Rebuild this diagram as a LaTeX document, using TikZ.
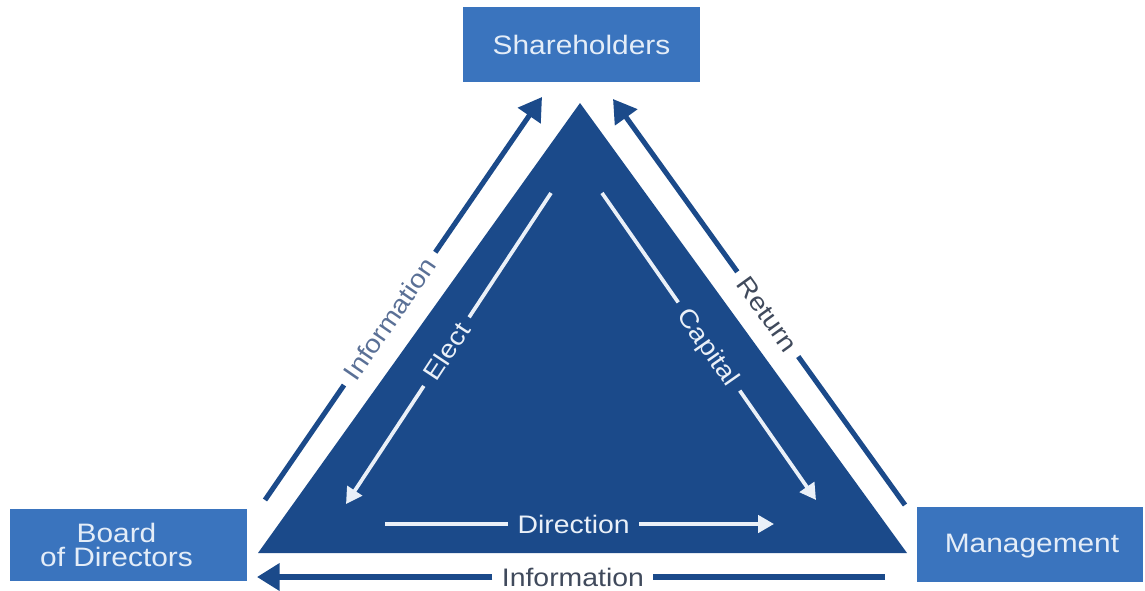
\documentclass[tikz,border=0pt]{standalone}
\usepackage{fontspec}
\setmainfont{Liberation Sans}
\newfontfamily\diagfont[FakeStretch=1.12]{Liberation Sans}
\usetikzlibrary{arrows.meta}
\definecolor{navy}{HTML}{1B4A8A}
\definecolor{boxblue}{HTML}{3A74BE}
\definecolor{boxtext}{HTML}{E4EDF8}
\definecolor{innertext}{HTML}{EAF0F8}
\definecolor{sidetext}{HTML}{5A7096}
\definecolor{slatetext}{HTML}{404A5C}
\begin{document}
\begin{tikzpicture}[x=0.75pt,y=-0.75pt,
  party/.style={fill=boxblue, draw=none, inner sep=0pt},
  partytext/.style={text=boxtext, inner sep=0pt, align=center,
    font=\diagfont\fontsize{20}{18}\selectfont},
  flowlbl/.style={font=\diagfont\fontsize{19}{22}\selectfont,
    inner xsep=7pt, inner ysep=0pt, text height=13.7pt, text depth=0pt},
  outerflow/.style={draw=navy, line width=3.8pt},
  outertip/.style={-{Triangle[length=17pt,width=20pt]}},
  innerflow/.style={draw=innertext, line width=2.8pt},
  innertip/.style={-{Triangle[length=12pt,width=13pt]}},
]
\useasboundingbox (0,0) rectangle (1145,590);

% the three parties
\node[party, minimum width=177.75pt, minimum height=56.25pt] (sh) at (581.5,44.5) {};
\node[partytext] (shtxt) at (sh.center) {Shareholders};
\node[party, minimum width=177.75pt, minimum height=54pt] (bd) at (128.5,545) {};
\node[partytext] (bdtxt) at ([xshift=-9pt]bd.center) {Board\\of Directors};
\node[party, minimum width=169.5pt, minimum height=56.25pt] (mg) at (1030,544.5) {};
\node[partytext] (mgtxt) at ([xshift=1.5pt,yshift=-1.5pt]mg.center) {Management};

% central triangle
\coordinate (apex) at (580,103);
\coordinate (bl) at (258,553);
\coordinate (br) at (907,553);
\fill[navy] (apex) -- (bl) -- (br) -- cycle;

% end points of the flows
\coordinate (iLa) at (265,500);
\coordinate (iLb) at (542,97);
\coordinate (rTop) at (613,99);
\coordinate (rBot) at (905,505);
\coordinate (bR) at (885,577);
\coordinate (bL) at (257,577);
\coordinate (eTop) at (551,193);
\coordinate (eBot) at (346,504);
\coordinate (cTop) at (602,193);
\coordinate (cBot) at (816,500);
\coordinate (dL) at (385,524);
\coordinate (dR) at (774,524);

% outer flows
\path (iLa) -- (iLb) node[pos=0.45, sloped, flowlbl, text=sidetext] (infoL) {Information};
\draw[outerflow] (iLa) -- (infoL.west);
\draw[outerflow, outertip] (infoL.east) -- (iLb);

\path (rTop) -- (rBot) node[pos=0.53, sloped, flowlbl, text=slatetext] (ret) {Return};
\draw[outerflow, outertip] (ret.west) -- (rTop);
\draw[outerflow] (ret.east) -- (rBot);

\path (bL) -- (bR) node[pos=0.503, flowlbl, text=slatetext] (infoB) {Information};
\draw[outerflow] (bR) -- (infoB.east);
\draw[outerflow, outertip] (infoB.west) -- (bL);

% inner flows
\path (eBot) -- (eTop) node[pos=0.49, sloped, flowlbl, text=innertext] (elect) {Elect};
\draw[innerflow] (eTop) -- (elect.east);
\draw[innerflow, innertip] (elect.west) -- (eBot);

\path (cTop) -- (cBot) node[pos=0.5, sloped, flowlbl, text=innertext] (cap) {Capital};
\draw[innerflow] (cTop) -- (cap.west);
\draw[innerflow, innertip] (cap.east) -- (cBot);

\path (dL) -- (dR) node[pos=0.485, flowlbl, text=innertext] (dir) {Direction};
\draw[innerflow] (dL) -- (dir.west);
\draw[innerflow, innertip] (dir.east) -- (dR);
\end{tikzpicture}
\end{document}
